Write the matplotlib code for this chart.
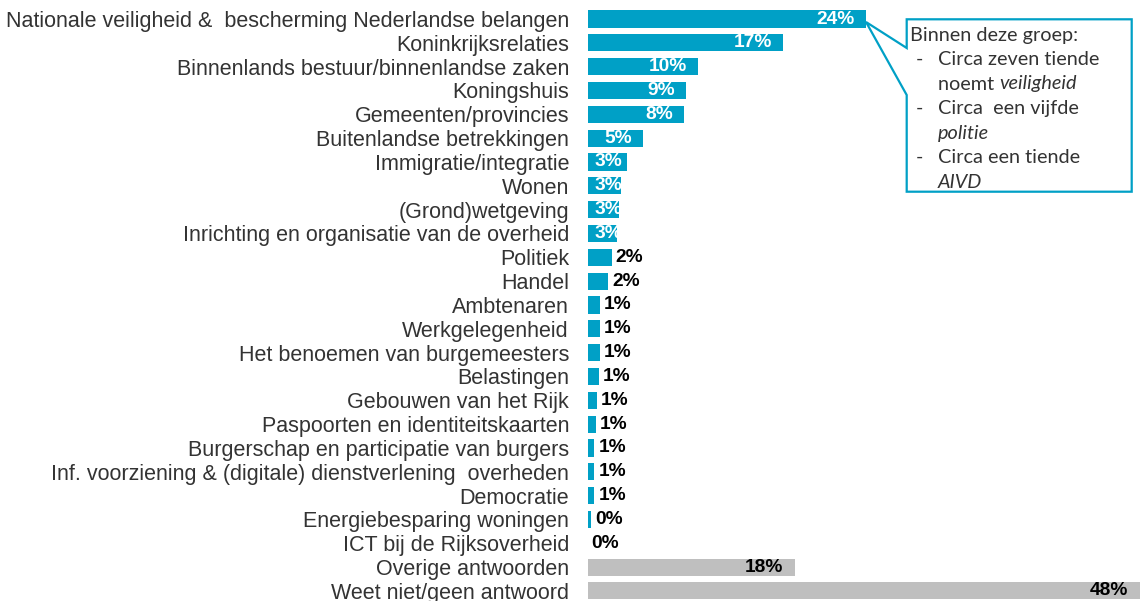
import matplotlib
matplotlib.use("Agg")
import matplotlib.pyplot as plt
from matplotlib.patches import Polygon
from matplotlib.text import Annotation

categories = [
    "Nationale veiligheid &  bescherming Nederlandse belangen",
    "Koninkrijksrelaties",
    "Binnenlands bestuur/binnenlandse zaken",
    "Koningshuis",
    "Gemeenten/provincies",
    "Buitenlandse betrekkingen",
    "Immigratie/integratie",
    "Wonen",
    "(Grond)wetgeving",
    "Inrichting en organisatie van de overheid",
    "Politiek",
    "Handel",
    "Ambtenaren",
    "Werkgelegenheid",
    "Het benoemen van burgemeesters",
    "Belastingen",
    "Gebouwen van het Rijk",
    "Paspoorten en identiteitskaarten",
    "Burgerschap en participatie van burgers",
    "Inf. voorziening & (digitale) dienstverlening  overheden",
    "Democratie",
    "Energiebesparing woningen",
    "ICT bij de Rijksoverheid",
    "Overige antwoorden",
    "Weet niet/geen antwoord",
]
values = [24.2, 17.0, 9.6, 8.6, 8.4, 4.8, 3.4, 2.9, 2.7, 2.6, 2.1, 1.8,
          1.1, 1.1, 1.1, 1.0, 0.8, 0.7, 0.6, 0.6, 0.6, 0.3, 0.0, 18.0, 48.0]
is_other = [False] * 23 + [True, True]

box_lines = [
    ("Binnen deze groep:", None, False),
    ("Circa zeven tiende", "-", False),
    ("noemt ", None, "veiligheid"),
    ("Circa  een vijfde", "-", False),
    ("", None, "politie"),
    ("Circa een tiende", "-", False),
    ("", None, "AIVD"),
]

BLUE = "#00A0C6"
GRAY = "#BFBFBF"
TXT = "#333333"

W, H = 1140, 601
fig = plt.figure(figsize=(W / 100, H / 100), dpi=100)
x0 = 587.5
ax = fig.add_axes([x0 / W, 0, (W - x0) / W, 1])
pxpp = 11.5
ax.set_xlim(0, (W - x0) / pxpp)
row0, step = 19.0, 23.83
ax.set_ylim((H - row0) / step, -row0 / step)

ypos = list(range(len(categories)))
colors = [GRAY if o else BLUE for o in is_other]
ax.barh(ypos, values, height=0.72, color=colors, edgecolor="none")

LFS = 13.8
for y, v, o in zip(ypos, values, is_other):
    lab = f"{round(v)}%"
    if v >= 2.5:
        col = "black" if o else "white"
        ax.annotate(lab, xy=(max(v, 4.02), y), xytext=(-11, 0),
                    textcoords="offset pixels", ha="right", va="center",
                    fontsize=LFS, fontweight="bold", color=col,
                    family="Liberation Sans")
    else:
        ax.annotate(lab, xy=(v, y), xytext=(4, 0),
                    textcoords="offset pixels", ha="left", va="center",
                    fontsize=LFS, fontweight="bold", color="black",
                    family="Liberation Sans")

ax.set_yticks(ypos)
ax.set_yticklabels(categories, fontsize=15.5, color=TXT, family="Liberation Sans")
ax.tick_params(axis="y", length=0, pad=13.3)
ax.tick_params(axis="x", bottom=False, labelbottom=False)
for s in ax.spines.values():
    s.set_visible(False)


def fp(x, y):
    return (x / W, 1 - y / H)


bx0, bx1, by0, by1 = 906.7, 1131.7, 19.3, 191.7
poly = [fp(bx0, by0), fp(bx1, by0), fp(bx1, by1), fp(bx0, by1),
        fp(bx0, 95), fp(866, 22), fp(bx0, 48)]
fig.patches.append(Polygon(poly, closed=True, transform=fig.transFigure,
                           facecolor="white", edgecolor=BLUE, linewidth=1.6,
                           zorder=5))

BFS = 14.3
ys = [35, 59.5, 84, 108.5, 133, 157.5, 182]
for (txt, dash, ital), yy in zip(box_lines, ys):
    if dash:
        fig.text(*fp(916, yy), dash, fontsize=BFS, family="Lato", color=TXT,
                 va="center", ha="left", zorder=6)
    xs = 910 if yy == ys[0] else 938
    t = fig.text(*fp(xs, yy), txt, fontsize=BFS, family="Lato", color=TXT,
                 va="center", ha="left", zorder=6)
    if ital:
        if txt:
            a = Annotation(ital, xy=(1, 0), xycoords=t, va="bottom", ha="left",
                           fontsize=BFS, family="Lato", style="italic",
                           color=TXT, zorder=6)
            fig.add_artist(a)
        else:
            fig.text(*fp(xs, yy), ital, fontsize=BFS, family="Lato",
                     style="italic", color=TXT, va="center", ha="left", zorder=6)

fig.savefig("out.png", dpi=100)
